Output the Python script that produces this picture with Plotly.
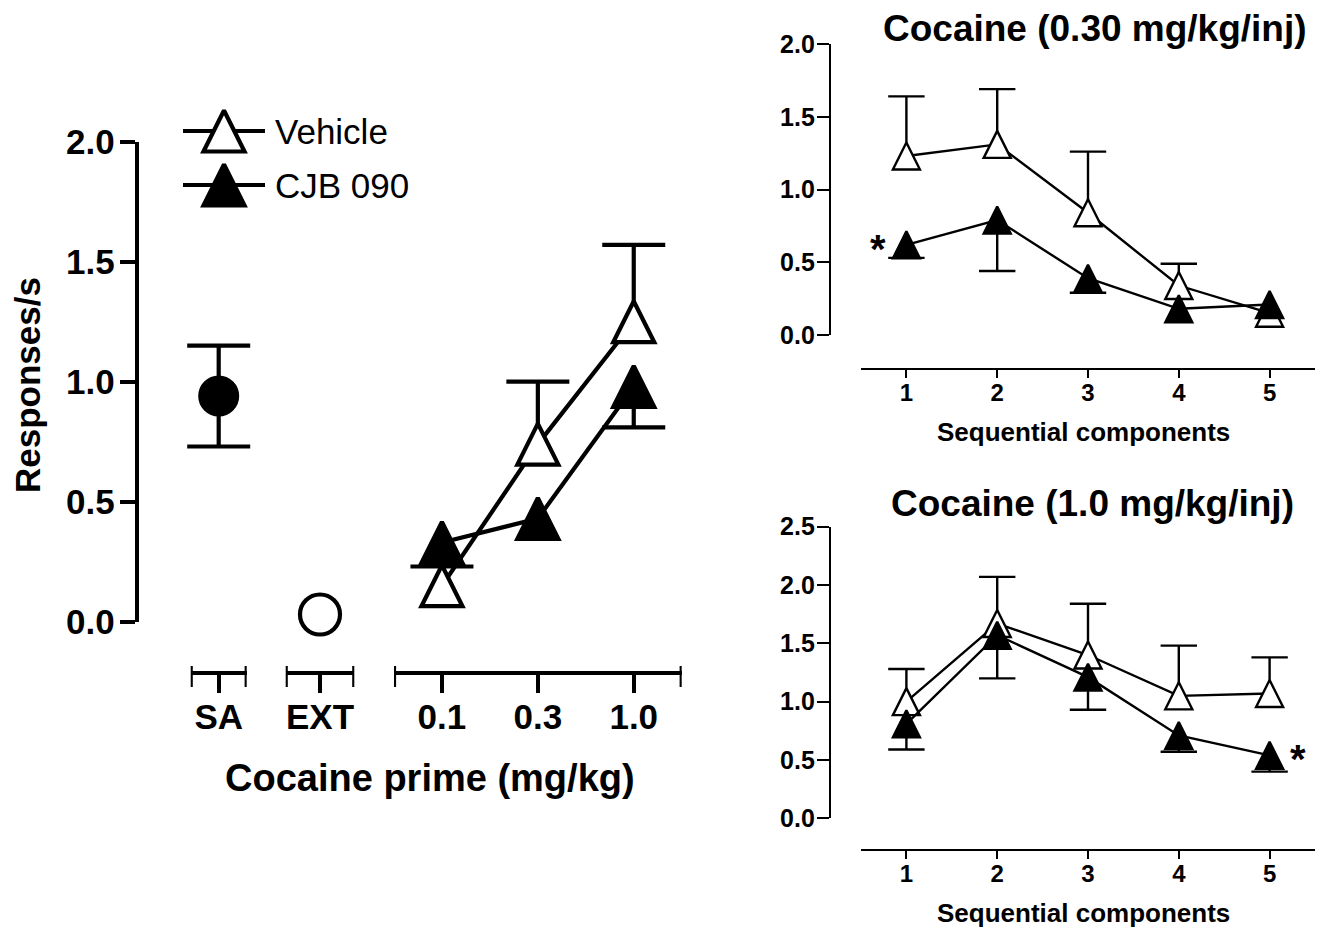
import plotly.graph_objects as go

# ---------------- data ----------------
# left panel: reinstatement test
sa_label = ["SA"]
sa_mean = [0.94]
sa_sem = [0.21]
ext_label = ["EXT"]
ext_mean = [0.03]
prime_doses = ["0.1", "0.3", "1.0"]
prime_vehicle = [0.15, 0.74, 1.25]
prime_vehicle_sem = [None, 0.26, 0.32]
prime_cjb = [0.33, 0.43, 0.98]
prime_cjb_sem = [0.10, None, 0.17]

# right panels: sequential components
components = [1, 2, 3, 4, 5]
c030_vehicle = [1.23, 1.31, 0.84, 0.34, 0.15]
c030_vehicle_sem = [0.41, 0.38, 0.42, 0.15, None]
c030_cjb = [0.62, 0.79, 0.39, 0.18, 0.21]
c030_cjb_sem = [0.09, 0.35, 0.10, None, None]

c10_vehicle = [1.00, 1.67, 1.40, 1.05, 1.07]
c10_vehicle_sem = [0.28, 0.40, 0.44, 0.43, 0.31]
c10_cjb = [0.81, 1.57, 1.21, 0.71, 0.54]
c10_cjb_sem = [0.22, 0.37, 0.28, 0.14, 0.14]

legend_names = ["Vehicle", "CJB 090"]

# ---------------- layout helpers ----------------
W, H = 1326, 931
FONT = "Liberation Sans, Arial, sans-serif"


def px(x):
    return x / W


def py(y):
    return 1 - y / H


fig = go.Figure()


def err_traces(xs, ys, sems, direction, xa, ya, cap, lw):
    sx, sy, cx, cy = [], [], [], []
    for x, y, s in zip(xs, ys, sems):
        if s is None:
            continue
        ends = []
        if direction in ("up", "both"):
            ends.append(y + s)
        if direction in ("down", "both"):
            ends.append(y - s)
        sx += [x, x, None]
        sy += [min(ends + [y]), max(ends + [y]), None]
        for e in ends:
            cx.append(x)
            cy.append(e)
    fig.add_trace(go.Scatter(x=sx, y=sy, mode="lines", xaxis=xa, yaxis=ya,
                             line=dict(color="black", width=lw),
                             hoverinfo="skip", showlegend=False))
    fig.add_trace(go.Scatter(x=cx, y=cy, mode="markers", xaxis=xa, yaxis=ya,
                             cliponaxis=False, hoverinfo="skip", showlegend=False,
                             marker=dict(symbol="line-ew", size=cap, color="black",
                                         line=dict(color="black", width=lw))))


def tri_trace(xs, ys, filled, xa, ya, size, lw, mode="lines+markers"):
    fig.add_trace(go.Scatter(
        x=xs, y=ys, mode=mode, xaxis=xa, yaxis=ya, cliponaxis=False,
        showlegend=False, hoverinfo="skip",
        line=dict(color="black", width=lw),
        marker=dict(symbol="arrow-down", angle=180, standoff=size / 2,
                    size=size, color="black" if filled else "white",
                    line=dict(color="black", width=lw))))


# ---------------- left panel ----------------
LW = 4.2
TRI_L = 41
CAP_L = 45
dose_pos = list(range(len(prime_doses)))

# SA
err_traces([0], sa_mean, sa_sem, "both", "x", "y", CAP_L, LW)
fig.add_trace(go.Scatter(x=[0], y=sa_mean, mode="markers", xaxis="x", yaxis="y",
                         cliponaxis=False, showlegend=False,
                         marker=dict(symbol="circle", size=39, color="black",
                                     line=dict(color="black", width=2))))
# EXT
fig.add_trace(go.Scatter(x=[0], y=ext_mean, mode="markers", xaxis="x2", yaxis="y",
                         cliponaxis=False, showlegend=False,
                         marker=dict(symbol="circle", size=40, color="white",
                                     line=dict(color="black", width=LW))))
# dose-response
err_traces(dose_pos, prime_vehicle, prime_vehicle_sem, "up", "x3", "y", CAP_L, LW)
tri_trace(dose_pos, prime_vehicle, False, "x3", "y", TRI_L, LW)
err_traces(dose_pos, prime_cjb, prime_cjb_sem, "down", "x3", "y", CAP_L, LW)
tri_trace(dose_pos, prime_cjb, True, "x3", "y", TRI_L, LW)

# legend (custom, drawn on its own hidden axes)
for i, (name, filled) in enumerate(zip(legend_names, [False, True])):
    yv = 1 - i
    fig.add_trace(go.Scatter(x=[0, 1], y=[yv, yv], mode="lines", xaxis="x6", yaxis="y6",
                             line=dict(color="black", width=LW), showlegend=False,
                             hoverinfo="skip"))
    tri_trace([0.5], [yv], filled, "x6", "y6", TRI_L, LW, mode="markers")
    fig.add_annotation(x=1, y=yv, xref="x6", yref="y6", text=name, showarrow=False,
                       xanchor="left", yanchor="middle", xshift=8,
                       font=dict(family=FONT, size=35, color="black"))

# ---------------- right panels ----------------
RW = 2.4
TRI_R = 27
CAP_R = 26
err_traces(components, c030_vehicle, c030_vehicle_sem, "up", "x4", "y4", CAP_R, RW)
tri_trace(components, c030_vehicle, False, "x4", "y4", TRI_R, RW)
err_traces(components, c030_cjb, c030_cjb_sem, "down", "x4", "y4", CAP_R, RW)
tri_trace(components, c030_cjb, True, "x4", "y4", TRI_R, RW)

err_traces(components, c10_vehicle, c10_vehicle_sem, "up", "x5", "y5", CAP_R, RW)
tri_trace(components, c10_vehicle, False, "x5", "y5", TRI_R, RW)
err_traces(components, c10_cjb, c10_cjb_sem, "down", "x5", "y5", CAP_R, RW)
tri_trace(components, c10_cjb, True, "x5", "y5", TRI_R, RW)

# ---------------- axes ----------------
bold = dict(family=FONT, color="black", weight="bold")


def xseg(domain, rng, vals, text, pos, lw, tlen, fsize, standoff):
    return dict(domain=[px(domain[0]), px(domain[1])], range=rng, anchor="free",
                position=py(pos), showgrid=False, zeroline=False, showline=True,
                linecolor="black", linewidth=lw, ticks="outside", ticklen=tlen,
                tickwidth=lw, tickcolor="black", tickmode="array", tickvals=vals,
                ticktext=text, tickfont=dict(bold, size=fsize), automargin=False,
                ticklabelstandoff=standoff, fixedrange=True)


def yax(domain, rng, pos, lw, tlen, fsize, standoff):
    return dict(domain=[py(domain[1]), py(domain[0])], range=rng, anchor="free",
                position=px(pos), showgrid=False, zeroline=False, showline=True,
                linecolor="black", linewidth=lw, ticks="outside", ticklen=tlen,
                tickwidth=lw, tickcolor="black", dtick=0.5, tick0=0, automargin=False,
                tickformat=".1f", tickfont=dict(bold, size=fsize),
                ticklabelstandoff=standoff, fixedrange=True)


XL = 673
sa_rng = [-0.5, 0.5]
ext_rng = [-0.5, 0.5]
dose_rng = [-0.5, 2.5]
comp_rng = [0.5, 5.5]

fig.update_layout(
    xaxis=xseg([190.7, 246.7], sa_rng, [0], sa_label, XL, LW, 18, 35, -6),
    xaxis2=xseg([285.7, 354.3], ext_rng, [0], ext_label, XL, LW, 18, 35, -6),
    xaxis3=xseg([394, 681.7], dose_rng, dose_pos, prime_doses, XL, LW, 18, 35, -6),
    yaxis=yax([141.7, 621.7], [0, 2.0], 136.7, LW, 15, 35, -2),
    xaxis4=xseg([861, 1315], comp_rng, components, [str(c) for c in components],
                369, RW, 8, 24, -6),
    yaxis4=yax([44, 335], [0, 2.0], 830, RW, 12, 25, -3),
    xaxis5=xseg([861, 1315], comp_rng, components, [str(c) for c in components],
                850, RW, 8, 24, -6),
    yaxis5=yax([526.7, 818.3], [0, 2.5], 830, RW, 12, 25, -3),
    xaxis6=dict(domain=[px(183), px(265)], range=[0, 1], anchor="y6", visible=False,
                fixedrange=True, automargin=False),
    yaxis6=dict(domain=[py(185 + 27), py(131 - 27)], range=[-0.5, 1.5], anchor="x6",
                visible=False, fixedrange=True, automargin=False),
)

# end caps of the broken left x axis
for xa, rng in (("x", sa_rng), ("x2", ext_rng), ("x3", dose_rng)):
    for xv in rng:
        fig.add_shape(type="line", xref=xa, yref="paper", x0=xv, x1=xv,
                      y0=py(666), y1=py(687), line=dict(color="black", width=LW))

# ---------------- text ----------------
def label(x, y, text, size, angle=0):
    fig.add_annotation(x=px(x), y=py(y), xref="paper", yref="paper", text=text,
                       textangle=angle, showarrow=False, xanchor="center",
                       yanchor="middle", font=dict(bold, size=size))


label(28, 385, "Responses/s", 35, -90)
label(430, 778, "Cocaine prime (mg/kg)", 38)
label(1095, 28, "Cocaine (0.30 mg/kg/inj)", 37)
label(1092, 503, "Cocaine (1.0 mg/kg/inj)", 37)
label(1083, 432, "Sequential components", 26)
label(1083, 913, "Sequential components", 26)

# significance asterisks
fig.add_annotation(x=components[0], y=c030_cjb[0], xref="x4", yref="y4", text="*",
                   showarrow=False, xshift=-28, yshift=-4, font=dict(bold, size=40))
fig.add_annotation(x=components[4], y=c10_cjb[4], xref="x5", yref="y5", text="*",
                   showarrow=False, xshift=28, yshift=-4, font=dict(bold, size=40))

fig.update_layout(width=W, height=H,
                  margin=dict(l=0, r=0, t=0, b=0, pad=0, autoexpand=False),
                  paper_bgcolor="white", plot_bgcolor="white", showlegend=False,
                  font=dict(family=FONT, color="black"))

fig.write_html("out.html")
